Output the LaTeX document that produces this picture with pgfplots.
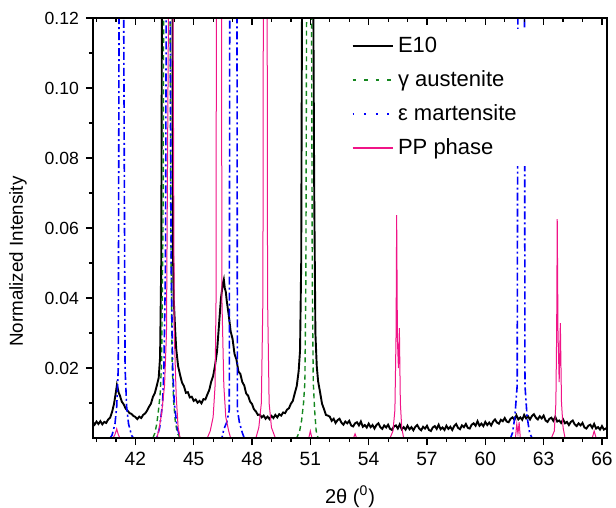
\documentclass[border=0pt]{standalone}
\usepackage{fontspec}
\setmainfont{Liberation Sans}
\usepackage{pgfplots}
\pgfplotsset{compat=1.18}
\usepackage{pgfplotstable}

\definecolor{gcol}{RGB}{20,135,30}
\definecolor{bcol}{RGB}{0,0,250}
\definecolor{pcol}{RGB}{240,20,135}

% E10 measured pattern
\pgfplotstableread{
x y
39.82 0.0045
39.9 0.0038
40.0 0.0047
40.1 0.0040
40.2 0.0048
40.3 0.0039
40.4 0.0046
40.5 0.0043
40.6 0.0053
40.7 0.0058
40.8 0.0074
40.9 0.0097
41.0 0.0132
41.05 0.0151
41.1 0.0140
41.15 0.0128
41.2 0.0122
41.3 0.0104
41.4 0.0096
41.5 0.0084
41.6 0.0078
41.7 0.0071
41.8 0.0069
41.9 0.0063
42.0 0.0060
42.1 0.0054
42.2 0.0061
42.3 0.0057
42.4 0.0066
42.5 0.0070
42.6 0.0078
42.7 0.0089
42.8 0.0098
42.9 0.0117
43.0 0.0128
43.1 0.0149
43.2 0.0172
43.27 0.0230
43.33 0.0500
43.38 0.1500
43.5 0.6000
43.65 0.9000
43.8 0.5000
43.9 0.1400
43.93 0.0550
43.97 0.0400
44.05 0.0305
44.1 0.0255
44.2 0.0205
44.3 0.0180
44.4 0.0158
44.5 0.0148
44.6 0.0129
44.7 0.0131
44.8 0.0116
44.9 0.0118
45.0 0.0106
45.1 0.0110
45.2 0.0101
45.3 0.0106
45.4 0.0099
45.5 0.0111
45.6 0.0110
45.7 0.0124
45.8 0.0137
45.9 0.0161
46.0 0.0177
46.1 0.0208
46.2 0.0247
46.3 0.0322
46.4 0.0398
46.5 0.0442
46.55 0.0453
46.6 0.0428
46.65 0.0418
46.7 0.0392
46.8 0.0352
46.9 0.0305
47.0 0.0283
47.1 0.0240
47.2 0.0224
47.3 0.0190
47.4 0.0183
47.5 0.0160
47.6 0.0150
47.7 0.0127
47.8 0.0121
47.9 0.0104
48.0 0.0097
48.1 0.0082
48.2 0.0076
48.3 0.0066
48.4 0.0067
48.5 0.0059
48.6 0.0064
48.7 0.0055
48.8 0.0061
48.9 0.0054
49.0 0.0063
49.1 0.0057
49.2 0.0066
49.3 0.0059
49.4 0.0068
49.5 0.0064
49.6 0.0073
49.7 0.0071
49.8 0.0081
49.9 0.0085
50.0 0.0098
50.1 0.0106
50.2 0.0128
50.3 0.0148
50.4 0.0192
50.47 0.0250
50.53 0.0500
50.58 0.1400
50.7 0.5000
50.88 0.8000
51.05 0.4500
51.14 0.1400
51.2 0.0700
51.26 0.0300
51.33 0.0205
51.4 0.0162
51.5 0.0131
51.6 0.0098
51.7 0.0083
51.8 0.0066
51.9 0.0064
52.0 0.0061
52.1 0.0049
52.2 0.0055
52.3 0.0043
52.4 0.0051
52.5 0.0055
52.6 0.0044
52.7 0.0038
52.8 0.0047
52.9 0.0042
53.0 0.0049
53.1 0.0036
53.2 0.0033
53.3 0.0042
53.4 0.0045
53.5 0.0036
53.6 0.0047
53.7 0.0032
53.8 0.0037
53.9 0.0030
54.0 0.0041
54.1 0.0031
54.2 0.0037
54.3 0.0027
54.4 0.0037
54.5 0.0042
54.6 0.0031
54.7 0.0026
54.8 0.0036
54.9 0.0030
55.0 0.0038
55.1 0.0026
55.2 0.0023
55.3 0.0033
55.4 0.0036
55.5 0.0027
55.6 0.0039
55.7 0.0025
55.8 0.0031
55.9 0.0024
56.0 0.0035
56.1 0.0025
56.2 0.0031
56.3 0.0022
56.4 0.0032
56.5 0.0037
56.6 0.0027
56.7 0.0022
56.8 0.0032
56.9 0.0027
57.0 0.0035
57.1 0.0023
57.2 0.0020
57.3 0.0030
57.4 0.0034
57.5 0.0026
57.6 0.0038
57.7 0.0025
57.8 0.0030
57.9 0.0023
58.0 0.0035
58.1 0.0026
58.2 0.0032
58.3 0.0023
58.4 0.0034
58.5 0.0040
58.6 0.0029
58.7 0.0025
58.8 0.0036
58.9 0.0031
59.0 0.0040
59.1 0.0029
59.2 0.0027
59.3 0.0038
59.4 0.0042
59.5 0.0035
59.6 0.0048
59.7 0.0035
59.8 0.0041
59.9 0.0034
60.0 0.0046
60.1 0.0037
60.2 0.0044
60.3 0.0036
60.4 0.0047
60.5 0.0053
60.6 0.0044
60.7 0.0041
60.8 0.0052
60.9 0.0048
61.0 0.0057
61.1 0.0047
61.2 0.0045
61.3 0.0055
61.4 0.0059
61.5 0.0052
61.6 0.0065
61.7 0.0053
61.8 0.0059
61.9 0.0052
62.0 0.0066
62.1 0.0056
62.2 0.0062
62.3 0.0053
62.4 0.0063
62.5 0.0068
62.6 0.0058
62.7 0.0053
62.8 0.0062
62.9 0.0056
63.0 0.0064
63.1 0.0050
63.2 0.0046
63.3 0.0055
63.4 0.0058
63.5 0.0049
63.6 0.0060
63.7 0.0047
63.8 0.0050
63.9 0.0043
64.0 0.0053
64.1 0.0042
64.2 0.0046
64.3 0.0037
64.4 0.0046
64.5 0.0050
64.6 0.0039
64.7 0.0034
64.8 0.0042
64.9 0.0036
65.0 0.0043
65.1 0.0030
65.2 0.0027
65.3 0.0035
65.4 0.0038
65.5 0.0029
65.6 0.0040
65.7 0.0027
65.8 0.0031
65.9 0.0024
66.0 0.0034
66.1 0.0024
66.26 0.0029
}\eten

% gamma austenite reference
\pgfplotstableread{
x y
39.82 0
42.9 0
43.0 0.0014
43.1 0.0040
43.2 0.0085
43.28 0.0130
43.35 0.0220
43.42 0.0600
43.47 0.1500
43.55 0.4500
43.62 0.6000
43.69 0.4500
43.77 0.1500
43.82 0.0600
43.89 0.0220
43.96 0.0110
44.05 0.0050
44.15 0.0015
44.3 0
50.3 0
50.45 0.0020
50.55 0.0050
50.65 0.0100
50.72 0.0160
50.77 0.0450
50.82 0.1500
50.93 0.5000
51.05 0.1500
51.1 0.0450
51.15 0.0160
51.22 0.0080
51.3 0.0020
51.4 0
66.26 0
}\gam

% epsilon martensite reference
\pgfplotstableread{
x y
39.82 0
40.7 0
40.8 0.0008
40.95 0.0040
41.04 0.0090
41.12 0.0200
41.16 0.1200
41.28 0.8000
41.40 0.1200
41.47 0.0200
41.55 0.0090
41.65 0.0040
41.8 0.0008
41.9 0
43.1 0
43.25 0.0030
43.4 0.0100
43.47 0.0200
43.55 0.0500
43.6 0.1500
43.69 0.8000
43.78 0.1500
43.84 0.0500
43.92 0.0200
44.0 0.0100
44.15 0.0030
44.3 0
46.45 0
46.55 0.0025
46.7 0.0045
46.83 0.0080
46.87 0.2000
47.04 0.8000
47.21 0.2000
47.25 0.0080
47.35 0.0045
47.5 0.0015
47.6 0
61.3 0
61.4 0.0015
61.52 0.0060
61.64 0.0150
61.7 0.2000
61.85 0.8000
62.0 0.2000
62.04 0.0150
62.15 0.0060
62.28 0.0015
62.4 0
66.26 0
}\eps

% PP phase reference
\pgfplotstableread{
x y
39.82 0
40.85 0
40.95 0.0010
41.04 0.0026
41.12 0.0010
41.2 0
43.1 0
43.2 0.0020
43.35 0.0070
43.5 0.0150
43.6 0.0300
43.7 0.1200
43.82 0.9000
43.94 0.1200
44.0 0.0300
44.1 0.0120
44.2 0.0030
44.3 0
45.7 0
45.85 0.0020
46.0 0.0060
46.1 0.0150
46.15 0.0400
46.18 0.2000
46.3 0.8000
46.42 0.2000
46.45 0.0400
46.55 0.0150
46.65 0.0060
46.8 0.0020
46.9 0
48.2 0
48.35 0.0030
48.48 0.0100
48.56 0.0400
48.6 0.2000
48.68 0.8000
48.76 0.2000
48.8 0.0400
48.88 0.0100
49.0 0.0030
49.2 0
50.92 0
51.0 0.0020
51.08 0
53.22 0
53.3 0.0012
53.38 0
55.1 0
55.25 0.0020
55.35 0.0080
55.41 0.0300
55.44 0.0637
55.48 0.0280
55.53 0.0200
55.58 0.0314
55.63 0.0100
55.7 0.0030
55.8 0
61.55 0
61.62 0.0040
61.68 0.0012
61.74 0.0045
61.8 0
63.4 0
63.55 0.0020
63.63 0.0100
63.67 0.0300
63.7 0.0625
63.74 0.0300
63.8 0.0160
63.86 0.0328
63.92 0.0100
64.0 0.0030
64.1 0
65.5 0
65.6 0.0020
65.7 0
66.26 0
}\pp

\begin{document}
\begin{tikzpicture}
\useasboundingbox (-46.5pt,-35pt) rectangle (261.5pt,219pt);
\begin{axis}[
  scale only axis,
  width=257pt, height=210pt,
  xmin=39.82, xmax=66.26,
  ymin=0, ymax=0.12,
  axis on top,
  axis line style={line width=1pt},
  xtick={42,45,...,66},
  minor xtick={40,41,...,66},
  ytick={0.02,0.04,...,0.12},
  minor ytick={0.01,0.03,...,0.11},
  xtick pos=bottom, ytick pos=left,
  tick align=outside,
  major tick length=3.5pt, minor tick length=2pt,
  tick style={line width=0.6pt, black},
  /pgf/number format/assume math mode=true,
  yticklabel style={font=\fontsize{8.8}{10}\selectfont, /pgf/number format/.cd, fixed, fixed zerofill, precision=2},
  xticklabel style={font=\fontsize{9.6}{11}\selectfont, /pgf/number format/.cd, fixed, precision=0},
  scaled y ticks=false,
  ylabel={Normalized Intensity},
  ylabel style={font=\fontsize{9.4}{11}\selectfont, at={(axis description cs:-0.146,0.42)}, anchor=center},
  xlabel={2θ (\textsuperscript{0})},
  xlabel style={font=\fontsize{10}{12}\selectfont, at={(axis description cs:0.5,-0.14)}, anchor=center},
  legend style={at={(0.49,0.975)}, anchor=north west, draw=none, fill=white,
    font=\fontsize{11}{13}\selectfont, row sep=3.6pt, inner xsep=3pt, inner ysep=2pt},
  legend cell align=left,
  legend image code/.code={\draw[#1] (0pt,0pt) -- (20pt,0pt);},
]
\addplot[black, line width=0.95pt, forget plot] table {\eten};
\addplot[gcol, line width=0.7pt, dash pattern=on 2.5pt off 1.8pt, forget plot] table {\gam};
\addplot[bcol, line width=0.8pt, dash pattern=on 4pt off 1.5pt on 1pt off 1.5pt, forget plot] table {\eps};
\addplot[pcol, line width=0.5pt, forget plot] table {\pp};

\addlegendimage{black, line width=1pt}
\addlegendentry{E10}
\addlegendimage{gcol, line width=1.4pt, dash pattern=on 1.8pt off 4pt}
\addlegendentry{γ austenite}
\addlegendimage{bcol, line width=1.4pt, dash pattern=on 0.9pt off 4.9pt}
\addlegendentry{ε martensite}
\addlegendimage{pcol, line width=1.2pt}
\addlegendentry{PP phase}
\end{axis}
\begin{axis}[
  scale only axis,
  width=257pt, height=210pt,
  xmin=39.82, xmax=66.26,
  ymin=0, ymax=0.12,
  axis x line*=top, hide y axis,
  axis line style={line width=1pt},
  xtick={42,45,...,66},
  minor xtick={40,41,...,66},
  xticklabels={},
  tick align=inside,
  major tick length=3.5pt, minor tick length=2pt,
  tick style={line width=0.6pt, black},
]
\end{axis}
\end{tikzpicture}
\end{document}
